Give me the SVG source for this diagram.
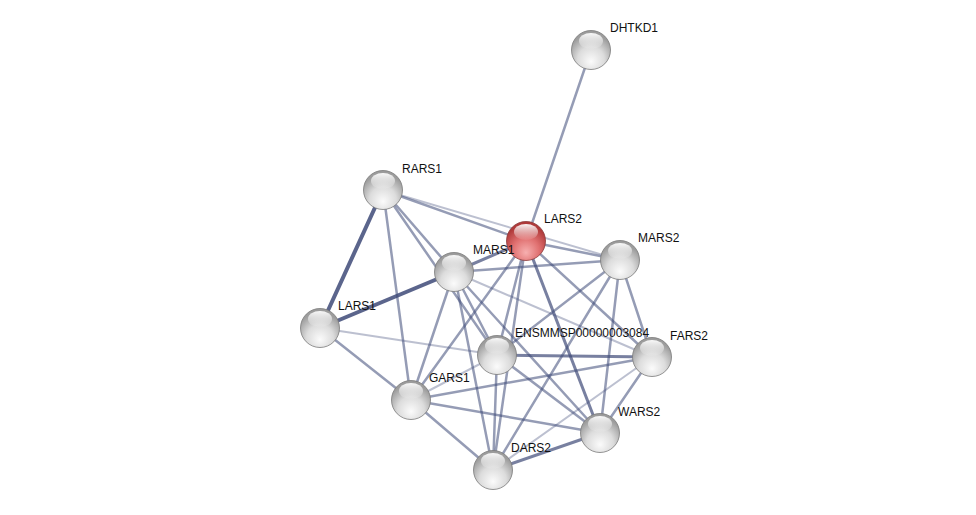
<svg xmlns="http://www.w3.org/2000/svg" width="976" height="515" viewBox="0 0 976 515">
<defs>
<radialGradient id="gg" cx="50%" cy="72%" r="62%" fx="50%" fy="80%">
<stop offset="0" stop-color="#fbfbfb"/>
<stop offset="0.55" stop-color="#dcdcdc"/>
<stop offset="1" stop-color="#9c9c9c"/>
</radialGradient>
<radialGradient id="rg" cx="50%" cy="72%" r="62%" fx="50%" fy="80%">
<stop offset="0" stop-color="#f7b0b0"/>
<stop offset="0.55" stop-color="#e07070"/>
<stop offset="1" stop-color="#b03a3a"/>
</radialGradient>
<linearGradient id="hl" x1="0" y1="0" x2="0" y2="1">
<stop offset="0" stop-color="#ffffff" stop-opacity="0.95"/>
<stop offset="1" stop-color="#ffffff" stop-opacity="0.05"/>
</linearGradient>
<g id="ball">
<circle r="19.5" fill="url(#gg)" stroke="#7a7a7a" stroke-width="0.8"/>
<ellipse cx="0" cy="-9" rx="12" ry="8" fill="url(#hl)"/>
</g>
<g id="rball">
<circle r="19.5" fill="url(#rg)" stroke="#8a3a3a" stroke-width="0.8"/>
<ellipse cx="0" cy="-9" rx="12" ry="8" fill="url(#hl)"/>
</g>
</defs>
<style>
.e{stroke:#3e4a78;fill:none;stroke-linecap:round}
.w1{stroke-width:2;stroke-opacity:0.35}
.w2{stroke-width:2.5;stroke-opacity:0.55}
.w3{stroke-width:3;stroke-opacity:0.7}
.w4{stroke-width:4;stroke-opacity:0.85}
text{font-family:"Liberation Sans",Arial,sans-serif;font-size:12px;fill:#111}
</style>
<rect width="976" height="515" fill="#ffffff"/>
<g id="edges">
<line class="e w2" x1="591" y1="50" x2="526" y2="241"/>
<line class="e w2" x1="383" y1="190" x2="526" y2="241"/>
<line class="e w1" x1="383" y1="190" x2="620" y2="260"/>
<line class="e w4" x1="383" y1="190" x2="320" y2="328"/>
<line class="e w2" x1="383" y1="190" x2="454" y2="272"/>
<line class="e w2" x1="383" y1="190" x2="497" y2="355"/>
<line class="e w2" x1="383" y1="190" x2="411" y2="400"/>
<line class="e w4" x1="320" y1="328" x2="454" y2="272"/>
<line class="e w3" x1="454" y1="272" x2="526" y2="241"/>
<line class="e w2" x1="454" y1="272" x2="620" y2="260"/>
<line class="e w1" x1="454" y1="272" x2="652" y2="357"/>
<line class="e w2" x1="454" y1="272" x2="497" y2="355"/>
<line class="e w2" x1="454" y1="272" x2="600" y2="433"/>
<line class="e w2" x1="454" y1="272" x2="411" y2="400"/>
<line class="e w2" x1="454" y1="272" x2="493" y2="470"/>
<line class="e w2" x1="526" y1="241" x2="620" y2="260"/>
<line class="e w2" x1="526" y1="241" x2="497" y2="355"/>
<line class="e w2" x1="526" y1="241" x2="411" y2="400"/>
<line class="e w2" x1="526" y1="241" x2="493" y2="470"/>
<line class="e w3" x1="526" y1="241" x2="600" y2="433"/>
<line class="e w2" x1="526" y1="241" x2="652" y2="357"/>
<line class="e w2" x1="620" y1="260" x2="497" y2="355"/>
<line class="e w2" x1="620" y1="260" x2="493" y2="470"/>
<line class="e w2" x1="620" y1="260" x2="600" y2="433"/>
<line class="e w2" x1="620" y1="260" x2="652" y2="357"/>
<line class="e w1" x1="320" y1="328" x2="497" y2="355"/>
<line class="e w2" x1="320" y1="328" x2="411" y2="400"/>
<line class="e w3" x1="497" y1="355" x2="652" y2="357"/>
<line class="e w2" x1="497" y1="355" x2="600" y2="433"/>
<line class="e w2" x1="497" y1="355" x2="493" y2="470"/>
<line class="e w1" x1="497" y1="355" x2="411" y2="400"/>
<line class="e w2" x1="411" y1="400" x2="652" y2="357"/>
<line class="e w2" x1="411" y1="400" x2="600" y2="433"/>
<line class="e w2" x1="411" y1="400" x2="493" y2="470"/>
<line class="e w2" x1="652" y1="357" x2="600" y2="433"/>
<line class="e w1" x1="652" y1="357" x2="493" y2="470"/>
<line class="e w3" x1="600" y1="433" x2="493" y2="470"/>
</g>
<g id="DHTKD1"><use href="#ball" x="591" y="50"/><text x="610" y="32">DHTKD1</text></g>
<g id="RARS1"><use href="#ball" x="383" y="190"/><text x="402" y="173">RARS1</text></g>
<g id="LARS2"><use href="#rball" x="526" y="241"/><text x="544" y="223">LARS2</text></g>
<g id="MARS2"><use href="#ball" x="620" y="260"/><text x="638" y="242">MARS2</text></g>
<g id="MARS1"><use href="#ball" x="454" y="272"/><text x="473" y="254">MARS1</text></g>
<g id="LARS1"><use href="#ball" x="320" y="328"/><text x="338" y="310">LARS1</text></g>
<g id="ENSMMSP00000003084"><use href="#ball" x="497" y="355"/><text x="515" y="337">ENSMMSP00000003084</text></g>
<g id="FARS2"><use href="#ball" x="652" y="357"/><text x="670" y="340">FARS2</text></g>
<g id="GARS1"><use href="#ball" x="411" y="400"/><text x="429" y="382">GARS1</text></g>
<g id="WARS2"><use href="#ball" x="600" y="433"/><text x="618" y="416">WARS2</text></g>
<g id="DARS2"><use href="#ball" x="493" y="470"/><text x="511" y="452">DARS2</text></g>
</svg>
